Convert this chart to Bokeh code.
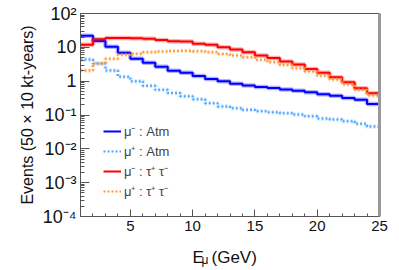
from bokeh.plotting import figure
from bokeh.models import (FixedTicker, CustomJSTickFormatter, Legend, LegendItem,
                          LinearAxis, Label)
from bokeh.layouts import column
from bokeh.embed import file_html
from bokeh.resources import INLINE

# Bin edges (GeV)
edges = list(range(1, 26))

mu_minus_atm = [22, 15.4, 10.4, 6.9, 4.6, 3.5, 2.67, 2.03, 1.78, 1.42, 1.15, 1.0,
                0.84, 0.75, 0.67, 0.625, 0.57, 0.52, 0.47, 0.41, 0.37, 0.32, 0.28, 0.21]
mu_plus_atm = [4.4, 3.3, 2.07, 1.35, 1.0, 0.73, 0.56, 0.45, 0.36, 0.29, 0.223, 0.178,
               0.159, 0.142, 0.129, 0.121, 0.113, 0.103, 0.092, 0.079, 0.074, 0.065, 0.055, 0.046]
mu_minus_tau = [11.9, 17.4, 19.0, 19.0, 18.6, 17.8, 16.6, 15.2, 14.8, 12.7, 11.9, 10.1,
                8.6, 7.2, 5.7, 4.8, 3.8, 3.1, 2.3, 1.77, 1.31, 0.93, 0.62, 0.44]
mu_plus_tau = [2.07, 3.3, 4.6, 6.0, 6.5, 7.1, 7.5, 7.8, 7.9, 7.7, 7.2, 6.4,
               5.7, 5.1, 4.3, 3.6, 3.0, 2.4, 1.93, 1.44, 1.12, 0.80, 0.56, 0.38]

labels = ["μ\u207b : Atm", "μ\u207a : Atm", "μ\u207b : τ\u207a τ\u207b", "μ\u207a : τ\u207a τ\u207b"]
colors = ["#0000ff", "#4da6ff", "#ff0000", "#ff9933"]
dashes = ["solid", "2 2", "solid", "2 2"]
series = [mu_minus_atm, mu_plus_atm, mu_minus_tau, mu_plus_tau]

y_major = [1e-4, 1e-3, 1e-2, 1e-1, 1, 10, 100]
y_minor = [k * 10.0 ** e for e in range(-4, 2) for k in range(1, 10)] + [100]

fig = figure(width=399, height=244, output_backend="svg", toolbar_location=None,
             x_range=(1, 25), y_range=(1e-4, 1e2), y_axis_type="log",
             min_border_left=80, min_border_right=20, min_border_top=13, min_border_bottom=28)
fig.grid.visible = False
fig.background_fill_color = "white"
fig.border_fill_color = "white"
fig.outline_line_color = "#555555"
fig.outline_line_width = 1

items = []
for vals, col, dash, lab in zip(series, colors, dashes, labels):
    ys = list(vals) + [vals[-1]]
    fig.step(edges, ys, mode="after", line_color=col, line_width=4.5, line_alpha=0.3,
             line_dash=dash)
    r = fig.step(edges, ys, mode="after", line_color=col, line_width=2, line_dash=dash)
    items.append(LegendItem(label=lab, renderers=[r]))

legend = Legend(items=items, location=(23, 15), border_line_color=None,
                background_fill_alpha=0, padding=0, margin=0, spacing=0,
                glyph_width=18, glyph_height=20, label_text_font="Liberation Sans",
                label_text_font_size="13px", label_standoff=3, label_height=20)
fig.add_layout(legend, "center")

# x axis
fig.xaxis.ticker = FixedTicker(ticks=[5, 10, 15, 20, 25], minor_ticks=list(range(1, 26)))
fig.xaxis.major_label_text_font = "Liberation Sans"
fig.xaxis.major_label_text_font_size = "15px"
fig.xaxis.major_label_text_color = "#111111"
fig.xaxis.axis_line_color = "#555555"
fig.xaxis.major_tick_in = 7
fig.xaxis.major_tick_out = 0
fig.xaxis.minor_tick_in = 3
fig.xaxis.minor_tick_out = 0
fig.xaxis.major_tick_line_color = "#555555"
fig.xaxis.minor_tick_line_color = "#555555"
fig.xaxis.major_label_standoff = 4
fig.xaxis.axis_label = None

# y axis
fig.yaxis.ticker = FixedTicker(ticks=y_major, minor_ticks=y_minor)
fig.yaxis.formatter = CustomJSTickFormatter(code="""
const e = Math.round(Math.log10(tick));
if (e === 0) return "1";
if (e === 1) return "10";
const sup = {"-": "\u207b", "0": "\u2070", "1": "\u00b9", "2": "\u00b2", "3": "\u00b3", "4": "\u2074"};
return "10" + String(e).split("").map(c => sup[c]).join("");
""")
fig.yaxis.major_label_text_font = "Liberation Sans"
fig.yaxis.major_label_text_font_size = "18px"
fig.yaxis.major_label_text_color = "#111111"
fig.yaxis.axis_line_color = "#555555"
fig.yaxis.major_tick_in = 9
fig.yaxis.major_tick_out = 0
fig.yaxis.minor_tick_in = 4
fig.yaxis.minor_tick_out = 0
fig.yaxis.major_tick_line_color = "#555555"
fig.yaxis.minor_tick_line_color = "#555555"
fig.yaxis.major_label_standoff = 4
fig.yaxis.axis_label = "Events (50 × 10 kt-years)"
fig.yaxis.axis_label_text_font = "Liberation Sans"
fig.yaxis.axis_label_text_font_style = "normal"
fig.yaxis.axis_label_text_font_size = "16px"
fig.yaxis.axis_label_text_color = "#111111"
fig.yaxis.axis_label_standoff = 4

# right frame edge
ra = LinearAxis(ticker=FixedTicker(ticks=[]), axis_line_color="#999999", axis_line_width=3,
                major_label_text_font_size="0px", major_tick_line_color=None,
                minor_tick_line_color=None)
fig.add_layout(ra, "right")

# x axis title strip: E with subscript mu (frame aligned with main plot frame)
title_fig = figure(width=399, height=26, output_backend="svg", toolbar_location=None,
                   x_axis_type=None, y_axis_type=None, x_range=(0, 1), y_range=(0, 1),
                   min_border_left=80, min_border_right=20,
                   min_border_top=0, min_border_bottom=0)
title_fig.outline_line_color = None
title_fig.grid.visible = False
title_fig.background_fill_color = "white"
title_fig.border_fill_color = "white"
for txt, xs, ys, fs in [("E", 112, 13, "17px"), ("μ", 121, 11, "12px"), ("(GeV)", 131, 13, "17px")]:
    title_fig.add_layout(Label(x=xs, y=ys, x_units="screen", y_units="screen", text=txt,
                               text_font="Liberation Sans", text_font_size=fs,
                               text_color="#111111", text_baseline="alphabetic"))

p = column(fig, title_fig, spacing=0)

open("out.html", "w").write(file_html(p, INLINE))
